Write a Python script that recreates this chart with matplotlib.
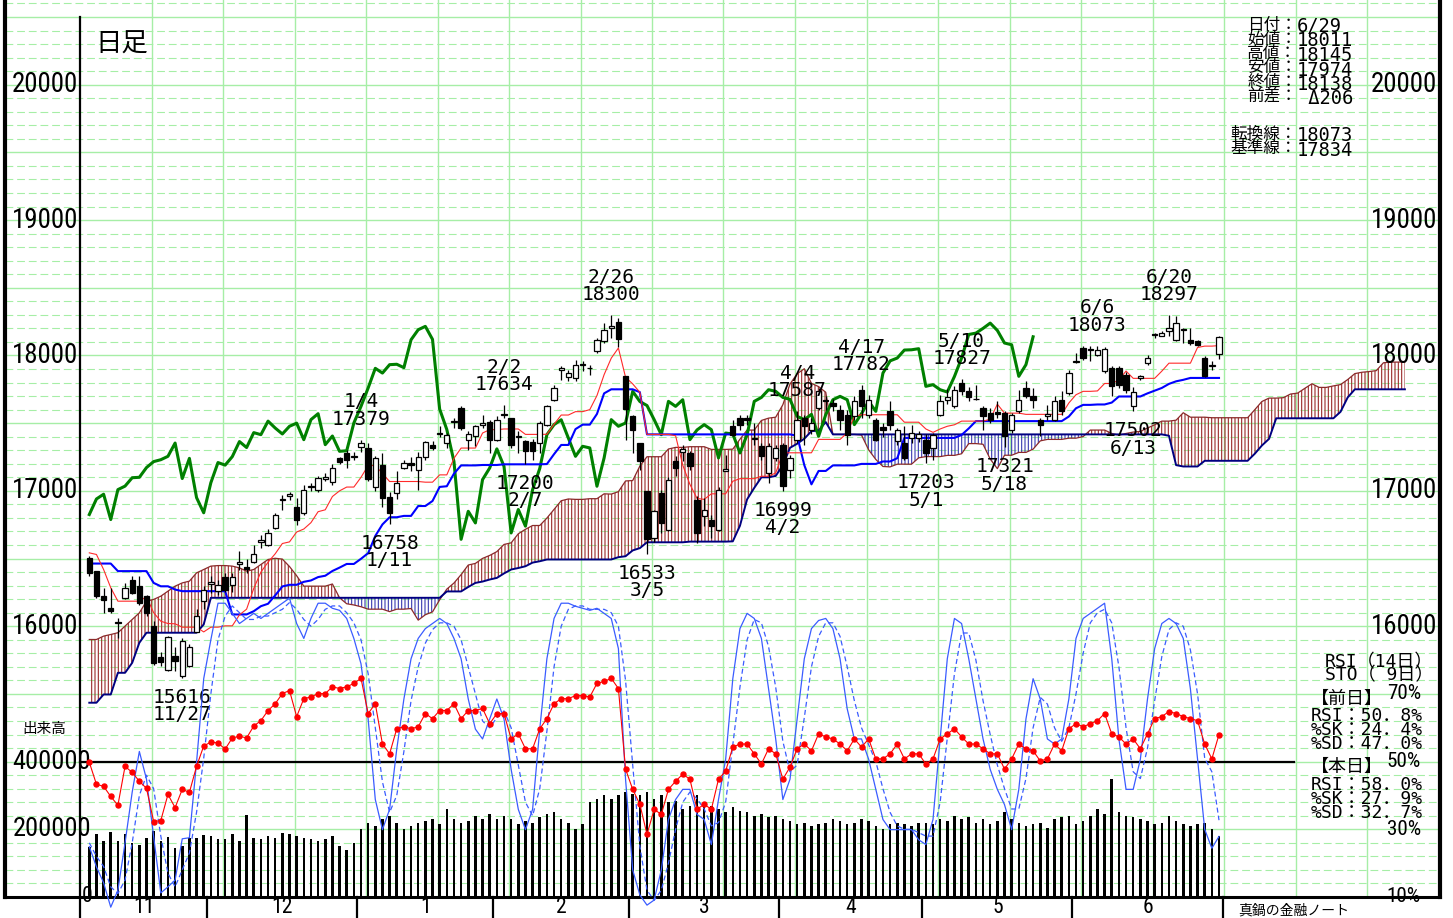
import numpy as np
import matplotlib
matplotlib.use('Agg')
import matplotlib.pyplot as plt
from matplotlib import font_manager

# ---- data (Nikkei 225 daily, 2006/11/07 - 2007/06/29) ----
months = ['11', '12', '1', '2', '3', '4', '5', '6']
days_per_month = [17, 21, 19, 19, 21, 20, 21, 21]

opens = [16505, 16405, 16222, 16136, 16030, 16210, 16345, 16296, 16222, 16000,
         15770, 15680, 15777, 15630, 15703, 15961, 16183, 16315, 16257, 16367,
         16308, 16460, 16440, 16478, 16620, 16603, 16729, 16930, 16965, 16884,
         16839, 17025, 17009, 17090, 17068, 17240, 17282, 17250, 17322, 17319,
         17030, 17194, 16958, 16987, 17172, 17209, 17157, 17253, 17340, 17420,
         17354, 17505, 17612, 17378, 17403, 17490, 17506, 17378, 17560, 17538,
         17400, 17366, 17360, 17354, 17489, 17673, 17895, 17841, 17833, 17930,
         17905, 18030, 18104, 18200, 18249, 17846, 17550, 17354, 16997, 16652,
         16985, 16714, 17218, 17290, 17280, 16935, 16812, 16788, 16714, 17150,
         17477, 17538, 17535, 17385, 17329, 17132, 17243, 17341, 17157, 17378,
         17538, 17452, 17612, 17670, 17650, 17600, 17563, 17550, 17747, 17563,
         17526, 17470, 17587, 17366, 17354, 17390, 17390, 17378, 17317, 17563,
         17670, 17624, 17796, 17740, 17680, 17612, 17575, 17580, 17575, 17452,
         17587, 17760, 17698, 17526, 17550, 17526, 17673, 17722, 17950, 18055,
         18045, 18005, 17883, 17907, 17907, 17858, 17630, 17835, 17944, 18150,
         18146, 18180, 18116, 18195, 18116, 18104, 17981, 17925, 18011]
highs = [16520, 16410, 16284, 16284, 16062, 16323, 16370, 16370, 16230, 16037,
         15806, 15925, 15850, 15910, 15870, 16124, 16300, 16370, 16345, 16390,
         16390, 16552, 16493, 16603, 16677, 16715, 16840, 16972, 16995, 16950,
         17040, 17060, 17110, 17130, 17200, 17250, 17304, 17290, 17379, 17353,
         17260, 17282, 16990, 17150, 17230, 17250, 17290, 17370, 17370, 17477,
         17427, 17538, 17624, 17440, 17489, 17563, 17526, 17550, 17634, 17538,
         17440, 17378, 17380, 17514, 17637, 17784, 17920, 17895, 17969, 17956,
         17932, 18128, 18239, 18300, 18280, 17846, 17563, 17354, 16997, 16860,
         17009, 17100, 17255, 17340, 17292, 16960, 16948, 16825, 17030, 17268,
         17526, 17563, 17563, 17501, 17354, 17354, 17341, 17354, 17268, 17587,
         17563, 17540, 17760, 17700, 17680, 17637, 17600, 17700, 17782, 17710,
         17538, 17500, 17661, 17464, 17477, 17489, 17440, 17420, 17430, 17710,
         17750, 17772, 17827, 17770, 17784, 17624, 17612, 17660, 17587, 17575,
         17747, 17809, 17760, 17538, 17636, 17698, 17735, 17895, 18018, 18067,
         18067, 18073, 18060, 17919, 17920, 17880, 17770, 17858, 18005, 18165,
         18178, 18297, 18290, 18202, 18202, 18116, 17993, 17960, 18145]
lows = [16370, 16210, 16099, 16099, 15915, 16200, 16240, 16160, 16074, 15715,
        15703, 15670, 15666, 15616, 15700, 15954, 16124, 16249, 16230, 16250,
        16250, 16419, 16396, 16470, 16581, 16590, 16715, 16862, 16935, 16751,
        16820, 17000, 16995, 17070, 17040, 17200, 17172, 17230, 17290, 17070,
        17000, 16877, 16758, 16943, 17160, 17150, 17009, 17230, 17300, 17400,
        17317, 17464, 17452, 17304, 17329, 17464, 17280, 17366, 17538, 17317,
        17280, 17200, 17230, 17280, 17477, 17661, 17821, 17809, 17809, 17883,
        17858, 18018, 18092, 18131, 18065, 17378, 17280, 17157, 16533, 16620,
        16689, 16700, 17108, 17220, 17157, 16616, 16739, 16652, 16700, 17145,
        17403, 17452, 17490, 17341, 17231, 17058, 17218, 16999, 17095, 17354,
        17341, 17420, 17600, 17600, 17590, 17452, 17341, 17520, 17538, 17538,
        17366, 17400, 17452, 17341, 17231, 17354, 17360, 17203, 17231, 17550,
        17640, 17612, 17710, 17660, 17670, 17452, 17500, 17540, 17321, 17427,
        17575, 17686, 17612, 17403, 17526, 17513, 17563, 17710, 17944, 17969,
        17956, 17993, 17870, 17698, 17760, 17722, 17587, 17821, 17932, 18130,
        18141, 18141, 18104, 18092, 18079, 18067, 17841, 17890, 17974]
closes = [16395, 16220, 16197, 16111, 16026, 16284, 16247, 16173, 16099, 15730,
          15735, 15917, 15740, 15888, 15850, 16072, 16271, 16330, 16308, 16271,
          16367, 16475, 16425, 16530, 16635, 16692, 16825, 16940, 16975, 16788,
          17009, 17035, 17097, 17100, 17172, 17216, 17230, 17255, 17353, 17091,
          17240, 16950, 16838, 17060, 17209, 17190, 17253, 17364, 17320, 17430,
          17415, 17515, 17464, 17420, 17477, 17500, 17378, 17526, 17570, 17341,
          17405, 17292, 17296, 17501, 17624, 17760, 17905, 17870, 17932, 17935,
          17910, 18116, 18190, 18215, 18119, 17604, 17453, 17217, 16642, 16849,
          16763, 17083, 17169, 17310, 17181, 16689, 16862, 16739, 17009, 17165,
          17415, 17489, 17525, 17391, 17255, 17329, 17317, 17034, 17243, 17526,
          17477, 17501, 17735, 17660, 17630, 17526, 17415, 17661, 17624, 17673,
          17378, 17450, 17489, 17452, 17243, 17427, 17420, 17280, 17415, 17661,
          17690, 17747, 17735, 17690, 17676, 17550, 17526, 17565, 17403, 17563,
          17673, 17698, 17673, 17489, 17570, 17661, 17587, 17870, 17960, 17981,
          18040, 18042, 18050, 17772, 17784, 17747, 17730, 17845, 17981, 18155,
          18165, 18200, 18239, 18185, 18092, 18079, 17846, 17932, 18138]

volumes = [149000, 185000, 164000, 191000, 164000, 185000, 161000, 155000, 173000, 194000,
           164000, 176000, 146000, 152000, 173000, 173000, 182000, 179000, 170000, 170000,
           185000, 164000, 242000, 173000, 170000, 180000, 175000, 190000, 185000, 180000,
           175000, 170000, 165000, 170000, 180000, 150000, 140000, 160000, 200000, 220000,
           210000, 230000, 240000, 220000, 200000, 210000, 220000, 225000, 230000, 215000,
           260000, 230000, 220000, 225000, 240000, 230000, 245000, 230000, 240000, 230000,
           215000, 225000, 220000, 235000, 245000, 250000, 230000, 220000, 200000, 215000,
           280000, 290000, 300000, 290000, 300000, 310000, 305000, 300000, 310000, 290000,
           300000, 280000, 285000, 260000, 270000, 300000, 280000, 270000, 260000, 250000,
           265000, 255000, 250000, 240000, 245000, 235000, 240000, 230000, 225000, 215000,
           220000, 210000, 215000, 220000, 230000, 225000, 215000, 220000, 230000, 225000,
           210000, 200000, 215000, 220000, 215000, 210000, 220000, 220000, 215000, 230000,
           225000, 240000, 230000, 235000, 220000, 230000, 215000, 225000, 250000, 230000,
           220000, 210000, 215000, 220000, 205000, 230000, 235000, 240000, 215000, 225000,
           240000, 260000, 245000, 350000, 250000, 240000, 235000, 230000, 225000, 215000,
           220000, 240000, 225000, 215000, 210000, 215000, 220000, 200000, 180000]

tenkan = [16542, 16530, 16419, 16284, 16185, 16185, 16185, 16185, 16218, 16100,
          16037, 16020, 16018, 15993, 15993, 15993, 15958, 15993, 15993, 16003,
          16003, 16084, 16126, 16279, 16400, 16473, 16535, 16611, 16623, 16696,
          16718, 16765, 16846, 16860, 16958, 17000, 17028, 17028, 17100, 17187,
          17187, 17128, 17069, 17069, 17069, 17069, 17069, 17064, 17064, 17118,
          17118, 17240, 17316, 17316, 17316, 17427, 17452, 17452, 17457, 17457,
          17457, 17417, 17417, 17417, 17418, 17492, 17560, 17560, 17585, 17585,
          17600, 17704, 17858, 17980, 18055, 17839, 17790, 17728, 17417, 17417,
          17417, 17417, 17407, 17190, 17048, 16944, 16937, 16978, 16978, 16978,
          17071, 17090, 17090, 17090, 17108, 17108, 17132, 17281, 17281, 17281,
          17281, 17281, 17380, 17380, 17380, 17380, 17428, 17551, 17562, 17562,
          17562, 17562, 17562, 17562, 17507, 17507, 17507, 17457, 17432, 17457,
          17477, 17488, 17515, 17515, 17515, 17515, 17529, 17640, 17574, 17574,
          17574, 17565, 17565, 17565, 17565, 17565, 17565, 17649, 17710, 17735,
          17735, 17738, 17793, 17793, 17818, 17885, 17831, 17831, 17831, 17831,
          17884, 17943, 17943, 17943, 17943, 18059, 18069, 18069, 18073]
kijun = ([16463] * 4 + [16407] * 5 + [16320] + [16295] * 2 + [16271] + [16259] * 7 +
         [16087] * 3 +
         [16111, 16148, 16166, 16228, 16294, 16306, 16306, 16328, 16338, 16363,
          16373, 16408, 16433, 16460, 16460, 16498, 16540, 16667, 16752, 16805,
          16805, 16815, 16815, 16888, 16888, 16925, 17029, 17034, 17127] +
         [17188] * 3 + [17191] * 3 + [17196] * 6 +
         [17198, 17271, 17339, 17339, 17456, 17489, 17489, 17568, 17720] +
         [17750] * 4 + [17729] + [17417] * 21 +
         [17407, 17190, 17048, 17147, 17147] + [17188] * 4 + [17199] * 3 +
         [17217] * 2 + [17241] + [17391] * 8 + [17413, 17461] + [17515] * 13 +
         [17549, 17610, 17635, 17635, 17638, 17638, 17652] + [17697] * 4 +
         [17720, 17740, 17760, 17790, 17809, 17820] + [17834] * 5)

# leading spans, already plotted 26 days ahead (185 points)
span_a = [15902, 15902, 15927, 15939, 15952, 16001, 16050, 16099, 16185, 16198,
          16222, 16259, 16296, 16320, 16333, 16394, 16419, 16444, 16448, 16448,
          16444, 16431, 16407, 16419, 16456, 16493, 16502, 16496, 16441, 16373,
          16296, 16296, 16296, 16296, 16312, 16210, 16166, 16157, 16144, 16126,
          16126, 16126, 16108, 16126, 16126, 16131, 16045, 16085, 16106, 16195,
          16274, 16319, 16381, 16452, 16464, 16501, 16523, 16551, 16604, 16616,
          16683, 16716, 16744, 16744, 16799, 16863, 16927, 16940, 16937, 16937,
          16942, 16942, 16978, 16976, 16994, 17073, 17076, 17183, 17252, 17252,
          17252, 17309, 17321, 17321, 17326, 17326, 17326, 17306, 17306, 17306,
          17308, 17381, 17449, 17449, 17520, 17537, 17544, 17636, 17789, 17865,
          17902, 17794, 17770, 17728, 17417, 17417, 17417, 17417, 17412, 17303,
          17232, 17180, 17177, 17197, 17197, 17197, 17244, 17253, 17253, 17253,
          17262, 17262, 17274, 17349, 17349, 17344, 17235, 17164, 17263, 17263,
          17284, 17284, 17308, 17369, 17380, 17380, 17380, 17389, 17389, 17401,
          17449, 17449, 17449, 17424, 17411, 17424, 17434, 17439, 17464, 17488,
          17515, 17515, 17522, 17577, 17544, 17544, 17544, 17540, 17540, 17540,
          17540, 17540, 17540, 17599, 17660, 17685, 17685, 17688, 17715, 17722,
          17757, 17791, 17764, 17764, 17775, 17785, 17822, 17866, 17876, 17881,
          17888, 17946, 17951, 17951, 17953]
span_b = ([15435] * 2 + [15496] * 2 + [15656] * 2 + [15730, 15878] + [15952] * 8 +
          [16013] + [16210] * 33 + [16257] * 3 +
          [16290, 16320, 16330, 16345, 16357, 16390, 16419, 16430, 16443, 16470, 16480] +
          [16493] * 10 + [16510, 16517, 16560, 16577] + [16620] * 6 + [16625] * 6 +
          [16627, 16742, 16937, 17022, 17100, 17100, 17110, 17189, 17318, 17348,
           17385, 17441, 17445, 17508] +
          [17417] * 47 + [17407, 17190] + [17180] * 3 + [17222] * 7 +
          [17274, 17335, 17384] + [17536] * 9 + [17584, 17690] + [17750] * 8)

rsi = [49.8, 43.3, 42.7, 39.7, 37.1, 48.6, 46.8, 44.2, 42.1, 32.3,
       32.6, 40.3, 36.4, 41.8, 40.9, 48.6, 54.6, 55.8, 55.5, 53.7,
       57.0, 57.5, 57.0, 60.5, 62.1, 65.1, 67.1, 70.1, 71.0, 63.3,
       68.6, 69.1, 70.1, 70.1, 72.1, 71.6, 72.1, 73.1, 74.6, 64.2,
       67.1, 55.2, 52.3, 59.7, 60.3, 59.7, 60.3, 64.2, 62.7, 65.1,
       65.1, 67.1, 62.7, 65.1, 65.1, 65.7, 61.2, 64.2, 64.2, 56.7,
       58.2, 53.8, 53.8, 59.7, 62.7, 67.1, 68.6, 68.6, 69.5, 69.5,
       69.1, 73.1, 73.7, 74.6, 71.6, 47.8, 41.8, 37.4, 28.5, 35.9,
       34.4, 41.8, 44.2, 46.3, 44.8, 35.9, 37.4, 35.9, 44.8, 47.2,
       54.3, 55.2, 55.2, 52.3, 49.3, 53.8, 52.3, 44.8, 48.4, 53.8,
       55.2, 53.2, 58.2, 57.3, 56.7, 55.2, 53.2, 56.7, 54.3, 56.7,
       50.8, 50.8, 52.3, 55.2, 50.8, 52.3, 52.3, 49.3, 50.8, 56.7,
       58.2, 59.7, 57.3, 55.2, 55.2, 53.8, 52.3, 52.3, 47.8, 50.8,
       55.2, 53.8, 53.2, 50.2, 50.8, 55.2, 53.2, 59.7, 61.2, 60.3,
       61.2, 62.1, 64.2, 58.2, 57.3, 55.2, 56.7, 53.8, 58.2, 62.7,
       63.3, 64.8, 64.2, 63.3, 62.7, 62.1, 55.2, 50.8, 58.0]
stoch_k = [24.9, 18.9, 14.2, 7.0, 12.0, 26.0, 41.0, 53.0, 44.8, 27.8,
           11.2, 13.0, 15.0, 27.2, 27.5, 49.8, 74.5, 86.0, 96.8, 96.8,
           93.8, 90.8, 92.3, 93.8, 92.3, 93.8, 95.3, 96.8, 98.3, 90.8,
           86.4, 92.3, 96.8, 96.8, 95.3, 94.7, 92.3, 86.4, 78.9, 62.6,
           38.8, 29.9, 35.9, 53.7, 68.5, 80.4, 86.4, 89.3, 90.8, 92.3,
           90.8, 86.4, 80.4, 68.5, 59.6, 56.7, 62.6, 68.5, 62.6, 47.7,
           35.9, 29.9, 35.9, 59.6, 80.4, 92.3, 96.8, 96.8, 95.9, 95.3,
           94.7, 95.3, 93.8, 92.3, 83.4, 44.8, 18.0, 10.6, 7.6, 9.1,
           18.0, 32.9, 38.8, 41.8, 41.8, 34.4, 32.9, 25.5, 38.8, 50.7,
           74.5, 89.3, 93.8, 92.3, 86.4, 71.5, 56.7, 38.8, 44.8, 62.6,
           80.4, 89.3, 91.7, 92.3, 89.3, 80.4, 65.6, 56.7, 56.7, 50.7,
           41.8, 32.9, 29.9, 29.9, 29.9, 29.9, 26.9, 25.5, 32.9, 56.7,
           80.4, 92.3, 90.8, 80.4, 68.5, 56.7, 47.7, 41.8, 37.3, 29.9,
           41.8, 62.6, 74.5, 68.5, 56.7, 55.2, 56.7, 68.5, 86.4, 92.3,
           93.8, 95.3, 96.8, 80.4, 56.7, 41.8, 41.8, 50.7, 68.5, 83.4,
           90.8, 92.3, 90.8, 86.4, 71.5, 50.7, 30.0, 24.4, 27.9]
stoch_d = [26, 22, 19, 13, 11, 15, 26, 40, 46, 42,
           28, 17, 13, 18, 23, 35, 51, 70, 86, 93,
           96, 94, 92, 92, 93, 93, 94, 95, 97, 95,
           92, 90, 92, 95, 96, 96, 94, 91, 86, 76,
           60, 44, 35, 40, 53, 68, 78, 85, 89, 91,
           91, 90, 86, 78, 70, 62, 60, 63, 65, 60,
           49, 38, 34, 42, 59, 78, 90, 95, 96, 96,
           95, 95, 95, 94, 90, 74, 49, 25, 12, 9,
           12, 20, 30, 38, 41, 39, 36, 31, 32, 38,
           55, 72, 86, 92, 91, 84, 72, 56, 47, 49,
           63, 78, 87, 91, 91, 87, 78, 68, 60, 55,
           50, 42, 35, 31, 30, 30, 29, 28, 28, 38,
           57, 76, 88, 88, 80, 68, 58, 49, 42, 36,
           36, 45, 60, 69, 67, 60, 56, 60, 70, 82,
           91, 94, 95, 91, 78, 60, 47, 45, 54, 68,
           81, 89, 91, 90, 83, 70, 51, 47.0, 32.7]

# labelled swing highs / lows: (day index, date text, value text)
peak_labels = [(38, '1/4', '17379'), (58, '2/2', '17634'), (73, '2/26', '18300'),
               (99, '4/4', '17587'), (108, '4/17', '17782'), (122, '5/10', '17827'),
               (141, '6/6', '18073'), (151, '6/20', '18297')]
trough_labels = [(13, '11/27', '15616'), (42, '1/11', '16758'), (61, '2/7', '17200'),
                 (78, '3/5', '16533'), (97, '4/2', '16999'), (117, '5/1', '17203'),
                 (128, '5/18', '17321'), (146, '6/13', '17502')]

info_labels = ['日付：', '始値：', '高値：', '安値：', '終値：', '前差：']
info_values = ['6/29', '18011', '18145', '17974', '18138', ' Δ206']
line_labels = ['転換線：', '基準線：']
line_values = ['18073', '17834']
osc_header = ['RSI（14日）', 'STO（ 9日）']
osc_prev = ['RSI：50．8%', '%SK：24．4%', '%SD：47．0%']
osc_today = ['RSI：58．0%', '%SK：27．9%', '%SD：32．7%']

# ---- layout ----
W, H = 1453, 918
X0, DX = 89.3, 7.15            # pixel x of first day, pixels per day
def kx(px):
    return (px - X0) / DX


def narrow_font():
    # tall, narrow digits like the original; take the narrowest face installed
    for name, adv in [('Liberation Sans Narrow', 0.456), ('Roboto Condensed', 0.503),
                      ('DejaVu Sans Condensed', 0.572)]:
        try:
            path = font_manager.findfont(font_manager.FontProperties(family=name),
                                         fallback_to_default=False)
            return font_manager.FontProperties(fname=path), adv
        except ValueError:
            pass
    path = font_manager.findfont(font_manager.FontProperties(family='DejaVu Sans',
                                                             stretch='condensed'))
    if 'Condensed' in path:
        return font_manager.FontProperties(fname=path), 0.572
    path = font_manager.findfont(font_manager.FontProperties(family='Roboto'))
    return font_manager.FontProperties(fname=path), 0.5615


NFP, NADV = narrow_font()
NSIZE = 68 / (5 * NADV) * 0.72          # "20000" about 68 px wide
MONO = ['DejaVu Sans Mono', 'Noto Sans CJK JP']
CJK = ['Noto Sans CJK JP', 'DejaVu Sans']
GREEN = '#a6eea6'

opens, highs, lows, closes = map(np.array, (opens, highs, lows, closes))
idx = np.arange(len(closes))
kc = np.arange(len(span_a))
span_a = np.array(span_a)
span_b = np.array(span_b)

plt.rcParams['hatch.linewidth'] = 0.8
fig = plt.figure(figsize=(W / 100, H / 100), dpi=100)
rect = [5 / W, 21 / H, 1435 / W, 897 / H]
ax = fig.add_axes(rect)
ax_vol = fig.add_axes(rect, sharex=ax)
ax_osc = fig.add_axes(rect, sharex=ax)
for a in (ax_vol, ax_osc):
    a.patch.set_visible(False)
    a.axis('off')

ax.set_xlim(kx(5), kx(1440))
ax.set_ylim(14000, 20500 + 17 / 0.13538)
ax_osc.set_ylim(10, 10 + (20625.6 - 14000) / 25)
ax_vol.set_ylim(0, (20625.6 - 14000) * 400)
ax.set_xticks([])
ax.set_yticks([])
ax.spines['top'].set_visible(False)
for s in ('left', 'right'):
    ax.spines[s].set_linewidth(3)
ax.spines['bottom'].set_linewidth(2.2)

# grid
for p in range(14100, 20700, 100):
    if p % 500 == 0:
        ax.axhline(p, color=GREEN, lw=1.0, zorder=0.5)
    else:
        ax.axhline(p, color=GREEN, lw=0.8, dashes=(7, 3.5), zorder=0.5)
for j in range(1, 19):
    ax.axvline(kx(80) + 10 * j, color=GREEN, lw=1.0, zorder=0.5)

# axis line and month ticks
bottom_fig = 14000 - 21 / 0.13538
ax.plot([kx(80), kx(80)], [bottom_fig, 20500], color='black', lw=1.6, clip_on=False, zorder=6)
bounds = np.cumsum(days_per_month) - 0.5
for b in bounds:
    ax.plot([b, b], [bottom_fig, 14000], color='black', lw=1.6, clip_on=False)
starts = np.concatenate([[kx(80)], bounds[:-1]])
for m, a0, a1 in zip(months, starts, bounds):
    ax.text((a0 + a1) / 2, bottom_fig + 1, m, ha='center', va='bottom',
            fontproperties=NFP, fontsize=NSIZE * 0.8, clip_on=False)

# ichimoku cloud
ax.fill_between(kc, span_a, span_b, where=span_a >= span_b, interpolate=True,
                facecolor='none', edgecolor='#9a2a2a', hatch='|||||', linewidth=0, zorder=1)
ax.fill_between(kc, span_a, span_b, where=span_a < span_b, interpolate=True,
                facecolor='none', edgecolor='#3a3ab0', hatch='|||||', linewidth=0, zorder=1)
ax.plot(kc, span_a, color='#8b2a2a', lw=0.9, zorder=1.5)
ax.plot(kc, span_b, color='#000080', lw=1.4, zorder=1.5)

# lagging span, base line, conversion line
ax.plot(idx[:-26], closes[26:], color='#008000', lw=2.2, zorder=2)
ax.plot(idx, kijun, color='#0000ff', lw=1.5, zorder=2.5)
ax.plot(idx, tenkan, color='#ff2a2a', lw=0.8, zorder=2.6)

# candlesticks
ax.vlines(idx, lows, highs, color='black', lw=0.9, zorder=3)
up = closes >= opens
body_lo = np.minimum(opens, closes)
body_h = np.maximum(np.abs(closes - opens), 4)
ax.bar(idx[up], body_h[up], bottom=body_lo[up], width=0.75, color='white',
       edgecolor='black', linewidth=0.9, zorder=4)
ax.bar(idx[~up], body_h[~up], bottom=body_lo[~up], width=0.75, color='black',
       edgecolor='black', linewidth=0.9, zorder=4)

# swing labels (two lines each)
for k, d, v in peak_labels:
    ax.annotate(f'{d}\n{v}', (k, highs[k]), xytext=(0, 11), textcoords='offset pixels',
                ha='center', va='bottom', multialignment='center', fontsize=14,
                family=MONO, linespacing=0.88, zorder=7)
for k, d, v in trough_labels:
    ax.annotate(f'{v}\n{d}', (k, lows[k]), xytext=(0, -10), textcoords='offset pixels',
                ha='center', va='top', multialignment='center', fontsize=14,
                family=MONO, linespacing=0.88, zorder=7)

# price labels
for p in (16000, 17000, 18000, 19000, 20000):
    ax.text(kx(78), p, str(p), ha='right', va='center', fontproperties=NFP, fontsize=NSIZE)
    ax.text(kx(1437), p, str(p), ha='right', va='center', fontproperties=NFP, fontsize=NSIZE)

# volume
ax_vol.bar(idx, volumes, width=0.35, color='black', zorder=2)
for v in (400000, 200000):
    ax_vol.text(kx(91), v, str(v), ha='right', va='center', fontproperties=NFP,
                fontsize=NSIZE * 0.98)
ax_vol.text(kx(82), 0, '0', ha='left', va='center', fontproperties=NFP, fontsize=NSIZE * 0.8)

# oscillators
ax_osc.plot([kx(80), kx(1294)], [50, 50], color='black', lw=1.6, zorder=1)
ax_osc.plot(idx, stoch_k, color='#3a5cff', lw=0.9, clip_on=False, zorder=2)
ax_osc.plot(idx, stoch_d, color='#3a5cff', lw=0.9, ls=(0, (4, 2.5)), clip_on=False, zorder=2)
ax_osc.plot(idx, rsi, color='red', lw=0.8, marker='o', ms=3.6, mfc='red', mec='red', zorder=3)
for v in (70, 50, 30, 10):
    ax_osc.text(kx(1421), v, f'{v}%', ha='right', va='center', fontproperties=NFP,
                fontsize=NSIZE * 0.78)

# ---- text panels (pixel placement) ----
def ftext(x, y, s, **kw):
    fig.text(x / W, 1 - y / H, s, **kw)

ftext(95, 44, '日足', fontsize=19, family=CJK, va='center', ha='left')
ftext(44, 729, '出来高', fontsize=10.5, family=CJK, va='center', ha='center')
ftext(1238, 917, '真鍋の金融ノート', fontsize=10, family=CJK, va='bottom', ha='left')

ftext(1297, 17, '\n'.join(info_labels), fontsize=12, family=CJK, va='top', ha='right',
      linespacing=0.78)
ftext(1297, 17, '\n'.join(info_values), fontsize=13.5, family=MONO, va='top', ha='left',
      linespacing=0.70)
ftext(1297, 126, '\n'.join(line_labels), fontsize=12, family=CJK, va='top', ha='right',
      linespacing=0.78)
ftext(1297, 126, '\n'.join(line_values), fontsize=13.5, family=MONO, va='top', ha='left',
      linespacing=0.70)

ftext(1325, 653, '\n'.join(osc_header), fontsize=13, family=MONO, va='top', ha='left',
      linespacing=0.67)
ftext(1311, 699, '【前日】', fontsize=13, family=MONO, va='center', ha='left')
ftext(1311, 707, '\n'.join(osc_prev), fontsize=13, family=MONO, va='top', ha='left',
      linespacing=0.72)
ftext(1311, 767, '【本日】', fontsize=13, family=MONO, va='center', ha='left')
ftext(1311, 776, '\n'.join(osc_today), fontsize=13, family=MONO, va='top', ha='left',
      linespacing=0.70)

fig.savefig('out.png', dpi=100)
